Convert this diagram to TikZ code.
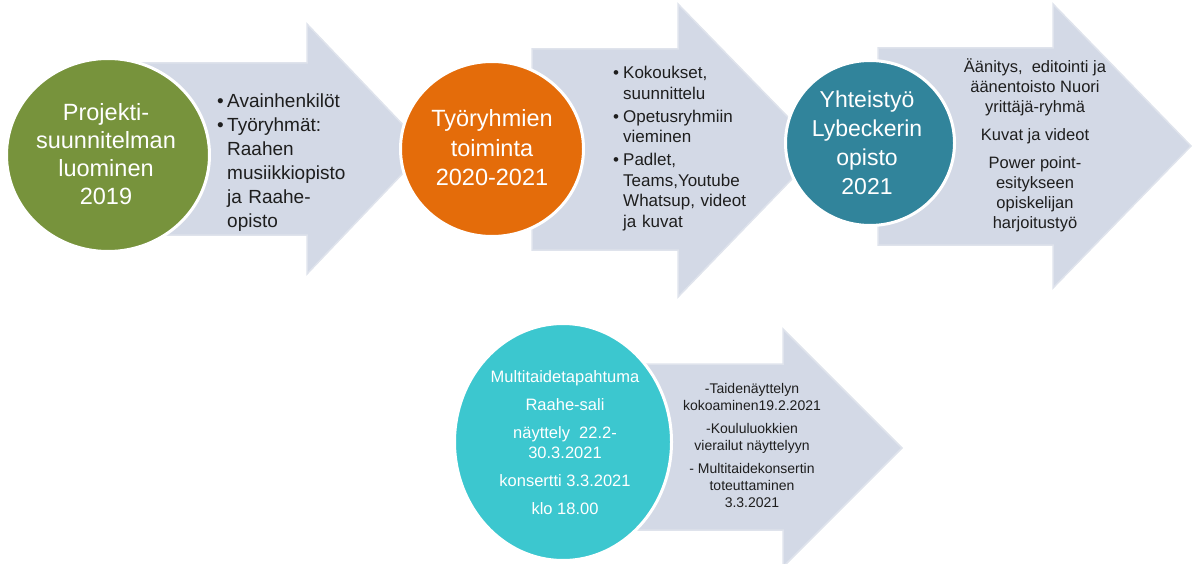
\documentclass[tikz,border=0pt]{standalone}
\usepackage{fontspec}
\setmainfont{Liberation Sans}
\usetikzlibrary{shapes.geometric}
\definecolor{arrfill}{HTML}{D3D9E6}
\definecolor{arredge}{HTML}{DFE3EC}
\definecolor{cgreen}{HTML}{77933C}
\definecolor{corange}{HTML}{E46C0A}
\definecolor{cteal}{HTML}{31849B}
\definecolor{ccyan}{HTML}{3CC7CF}
\definecolor{txt}{HTML}{1E1E1E}
\newcommand\bul[2][0pt]{\par\vspace{#1}\hangindent=10pt\hangafter=1\noindent\makebox[10pt][l]{\textbullet}#2}
\begin{document}
\begin{tikzpicture}[x=1pt,y=-1pt,
  arrowshape/.style={fill=arrfill,draw=arredge,line width=1.5pt,line join=miter},
  circ/.style={ellipse,draw=white,line width=3pt,inner sep=0pt},
  ctext/.style={text=white,align=center,inner sep=0pt},
  atext/.style={text=txt,inner sep=0pt},
]
\useasboundingbox (0,0) rectangle (1193,564);
% arrows
\draw[arrowshape] (110,63) -- (307,63) -- (307,24) -- (426,149) -- (307,274) -- (307,235) -- (110,235) -- cycle;
\draw[arrowshape] (532,49) -- (678,49) -- (678,4) -- (820,150) -- (678,297) -- (678,250) -- (532,250) -- cycle;
\draw[arrowshape] (878,48) -- (1053,48) -- (1053,4) -- (1191,146) -- (1053,288) -- (1053,245) -- (878,245) -- cycle;
\draw[arrowshape] (600,364) -- (783,364) -- (783,329) -- (902,448) -- (783,567) -- (783,530) -- (600,530) -- cycle;
% arrow texts
\node[atext, anchor=north west, text width=150pt, font=\fontsize{19}{24}\selectfont] (t1) at (217,83)
  {\raggedright\bul{Avainhenkilöt}\bul{Työryhmät:\newline Raahen\newline musiikkiopisto\newline ja Raahe-\newline opisto}\par};
\node[atext, anchor=north west, text width=150pt, font=\fontsize{17}{20.5}\selectfont] (t2) at (613,58)
  {\raggedright\bul{Kokoukset,\newline suunnittelu}\bul[2.5pt]{Opetusryhmiin\newline vieminen}\bul[2.5pt]{Padlet,\newline Teams,Youtube\newline Whatsup, videot\newline ja kuvat}\par};
\node[atext, anchor=north, align=center, font=\fontsize{16.5}{20}\selectfont] (t3) at (1035,58)
  {Äänitys,~ editointi ja\\ äänentoisto Nuori\\ yrittäjä-ryhmä\\[8pt] Kuvat ja videot\\[8pt] Power point-\\ esitykseen\\ opiskelijan\\ harjoitustyö};
\node[atext, anchor=north, align=center, font=\fontsize{14}{16.8}\selectfont] (t4) at (752,383)
  {-Taidenäyttelyn\\ kokoaminen19.2.2021\\[6.5pt] -Koululuokkien\\ vierailut näyttelyyn\\[6.5pt] - Multitaidekonsertin\\ toteuttaminen\\ 3.3.2021};
% circles
\node[circ, fill=cgreen, minimum width=203pt, minimum height=193pt] (c1) at (108,155) {};
\node[ctext, font=\fontsize{23.5}{28}\selectfont] (l1) at (106,154) {Projekti-\\ suunnitelman\\ luominen\\ 2019};
\node[circ, fill=corange, minimum width=183pt, minimum height=175pt] (c2) at (492,149) {};
\node[ctext, font=\fontsize{23.5}{29.5}\selectfont] (l2) at (492,148) {Työryhmien\\ toiminta\\ 2020-2021};
\node[circ, fill=cteal, minimum width=169pt, minimum height=165pt] (c3) at (870,143) {};
\node[ctext, font=\fontsize{23}{29}\selectfont] (l3) at (867,142.5) {Yhteistyö\\ Lybeckerin\\ opisto\\ 2021};
\node[circ, fill=ccyan, minimum width=217pt, minimum height=237pt] (c4) at (563,442) {};
\node[ctext, font=\fontsize{16.5}{20}\selectfont] (l4) at (565,443) {Multitaidetapahtuma\\[8pt] Raahe-sali\\[8pt] näyttely~ 22.2-\\ 30.3.2021\\[8pt] konsertti 3.3.2021\\[8pt] klo 18.00};
\end{tikzpicture}
\end{document}
